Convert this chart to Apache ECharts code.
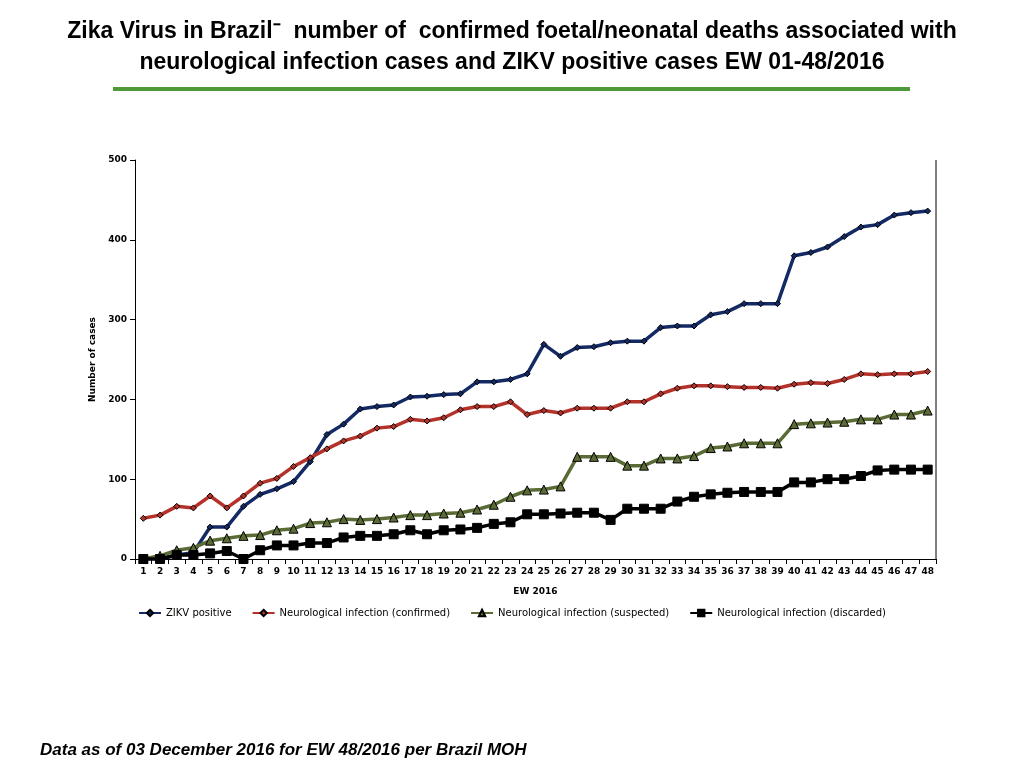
<!DOCTYPE html>
<html>
<head>
<meta charset="utf-8">
<script src="https://cdn.jsdelivr.net/npm/echarts@6/dist/echarts.min.js"></script>
<style>
html, body { margin: 0; padding: 0; background: #fff; }
#chart { width: 1024px; height: 768px; }
</style>
</head>
<body>
<div id="chart"></div>
<script>
// EW 2016 weeks 1..48
var weeks = [];
for (var i = 1; i <= 48; i++) weeks.push(String(i));

var zikvPositive = [0, 0, 5, 8, 40, 40, 66, 81, 88, 97, 122, 156, 169, 188, 191, 193, 203, 204, 206, 207, 222, 222, 225, 232, 269, 254, 265, 266, 271, 273, 273, 290, 292, 292, 306, 310, 320, 320, 320, 380, 384, 391, 404, 416, 419, 431, 434, 436];
var neuroConfirmed = [51, 55, 66, 64, 79, 64, 79, 95, 101, 116, 127, 138, 148, 154, 164, 166, 175, 173, 177, 187, 191, 191, 197, 181, 186, 183, 189, 189, 189, 197, 197, 207, 214, 217, 217, 216, 215, 215, 214, 219, 221, 220, 225, 232, 231, 232, 232, 235];
var neuroSuspected = [0, 4, 11, 14, 23, 26, 29, 30, 36, 38, 45, 46, 50, 49, 50, 52, 55, 55, 57, 58, 62, 68, 78, 86, 87, 91, 128, 128, 128, 117, 117, 126, 126, 129, 139, 141, 145, 145, 145, 169, 170, 171, 172, 175, 175, 181, 181, 186];
var neuroDiscarded = [0, 0, 5, 5, 7, 10, 0, 11, 17, 17, 20, 20, 27, 29, 29, 31, 36, 31, 36, 37, 39, 44, 46, 56, 56, 57, 58, 58, 49, 63, 63, 63, 72, 78, 81, 83, 84, 84, 84, 96, 96, 100, 100, 104, 111, 112, 112, 112];

var chart = echarts.init(document.getElementById('chart'));

function line(name, data, color, symbol, size) {
	return {
		name: name,
		type: 'line',
		data: data,
		symbol: symbol,
		symbolSize: size,
		lineStyle: { color: color, width: 3.5 },
		itemStyle: { color: color, borderColor: '#000', borderWidth: 1 }
	};
}

chart.setOption({
	animation: false,
	title: [
		{
			text: 'Zika Virus in Brazil\u207B  number of  confirmed foetal/neonatal deaths associated with\nneurological infection cases and ZIKV positive cases EW 01-48/2016',
			left: 'center', top: 11,
			textStyle: { fontFamily: 'Liberation Sans', fontWeight: 'bold', fontSize: 23, lineHeight: 31, color: '#000' }
		},
		{
			text: 'Data as of 03 December 2016 for EW 48/2016 per Brazil MOH',
			left: 35, top: 737,
			textStyle: { fontFamily: 'Liberation Sans', fontWeight: 'bold', fontStyle: 'italic', fontSize: 17, color: '#000' }
		}
	],
	graphic: [
		{ type: 'rect', shape: { x: 113, y: 87, width: 797, height: 4 }, style: { fill: '#4e9a3a' } },
		{ type: 'line', shape: { x1: 936, y1: 160, x2: 936, y2: 559 }, style: { stroke: '#000', lineWidth: 1 } }
	],
	legend: {
		bottom: 145, left: 'center', itemGap: 20, itemWidth: 22, itemHeight: 8,
		textStyle: { fontFamily: 'DejaVu Sans', fontSize: 10, color: '#000' }
	},
	grid: { left: 135, right: 88, top: 160, bottom: 209 },
	xAxis: {
		type: 'category', data: weeks, boundaryGap: true,
		name: 'EW 2016', nameLocation: 'middle', nameGap: 28,
		nameTextStyle: { fontFamily: 'DejaVu Sans', fontWeight: 'bold', fontSize: 9, color: '#000' },
		axisLine: { lineStyle: { color: '#000' } },
		axisTick: { show: true, alignWithLabel: false, lineStyle: { color: '#000' } },
		axisLabel: { interval: 0, fontFamily: 'DejaVu Sans', fontWeight: 'bold', fontSize: 9, color: '#000' }
	},
	yAxis: {
		type: 'value', min: 0, max: 500, interval: 100,
		name: 'Number of cases', nameLocation: 'middle', nameGap: 36,
		nameTextStyle: { fontFamily: 'DejaVu Sans', fontWeight: 'bold', fontSize: 9, color: '#000' },
		axisLine: { show: true, lineStyle: { color: '#000' } },
		axisTick: { show: true, lineStyle: { color: '#000' } },
		splitLine: { show: false },
		axisLabel: { fontFamily: 'DejaVu Sans', fontWeight: 'bold', fontSize: 9, color: '#000' }
	},
	series: [
		line('ZIKV positive', zikvPositive, '#142a64', 'diamond', 6),
		line('Neurological infection (confirmed)', neuroConfirmed, '#b5322a', 'diamond', 6),
		line('Neurological infection (suspected)', neuroSuspected, '#5b6b35', 'triangle', 9),
		line('Neurological infection (discarded)', neuroDiscarded, '#000000', 'rect', 9)
	]
});
</script>
</body>
</html>
